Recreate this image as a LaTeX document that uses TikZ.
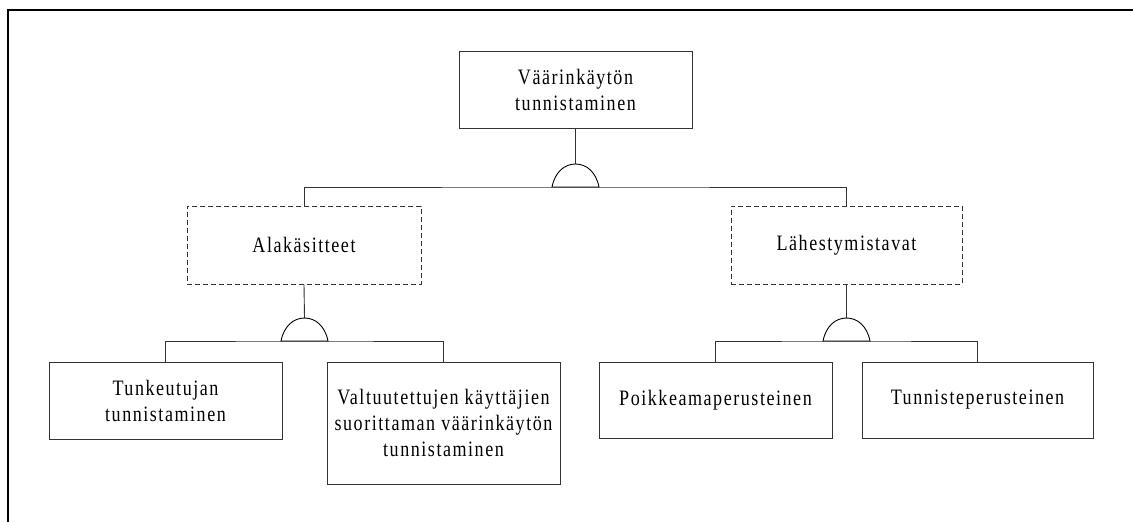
\documentclass[tikz,border=0pt]{standalone}
\usepackage{fontspec}
\setmainfont{Liberation Serif}[FakeStretch=0.82,LetterSpace=7]
\begin{document}
\begin{tikzpicture}[x=1pt,y=-1pt,
  box/.style={draw=black!80,line width=0.9pt,minimum width=233pt,minimum height=77pt,
    inner sep=0pt,align=center,font=\fontsize{22}{26}\selectfont},
  dbox/.style={box,dashed,dash pattern=on 5pt off 3pt},
  wire/.style={draw=black!80,line width=0.9pt},
  gatestyle/.style={draw=black,line width=0.9pt}]
\useasboundingbox (0,0) rectangle (1133,522);
% outer frame (only top and left edges fall inside the page)
\draw[line width=2pt] (8,530) -- (8,10) -- (1140,10);

% nodes
\node[box] (top) at (575.5,89.5) {Väärinkäytön\\tunnistaminen};
\node[dbox,minimum width=234pt,minimum height=78pt] (ala) at (304,245) {Alakäsitteet};
\node[dbox,minimum width=231pt,minimum height=78pt] (lah) at (846.5,245) {Lähestymistavat};
\node[box] (tunk) at (165.5,400.5) {Tunkeutujan\\tunnistaminen};
\node[box,minimum height=122pt] (valt) at (443.5,423) {Valtuutettujen käyttäjien\\suorittaman väärinkäytön\\tunnistaminen};
\node[box,minimum height=76pt] (poik) at (715.5,400) {Poikkeamaperusteinen};
\node[box,minimum width=231pt,minimum height=76pt] (tunn) at (977.5,400) {Tunnisteperusteinen};

% gate base points
\coordinate (g1) at (575.5,187);
\coordinate (g2) at (304.5,341);
\coordinate (g3) at (846.5,341);

% connectors
\draw[wire] (top.south) -- ([yshift=23pt]g1);
\draw[wire] (ala.north) |- (g1) -| (lah.north);
\draw[wire] (ala.south) -- ([yshift=23pt]g2);
\draw[wire] (tunk.north) |- (g2) -| (valt.north);
\draw[wire] (lah.south) -- ([yshift=23pt]g3);
\draw[wire] (poik.north) |- (g3) -| (tunn.north);

% AND gates
\foreach \g in {g1,g2,g3}{
  \draw[gatestyle] ([xshift=-23.5pt]\g) .. controls +(3,-15) and +(-11,0) .. ([yshift=23pt]\g)
    .. controls +(11,0) and +(-3,-15) .. ([xshift=23.5pt]\g) -- cycle;
}
\end{tikzpicture}
\end{document}
